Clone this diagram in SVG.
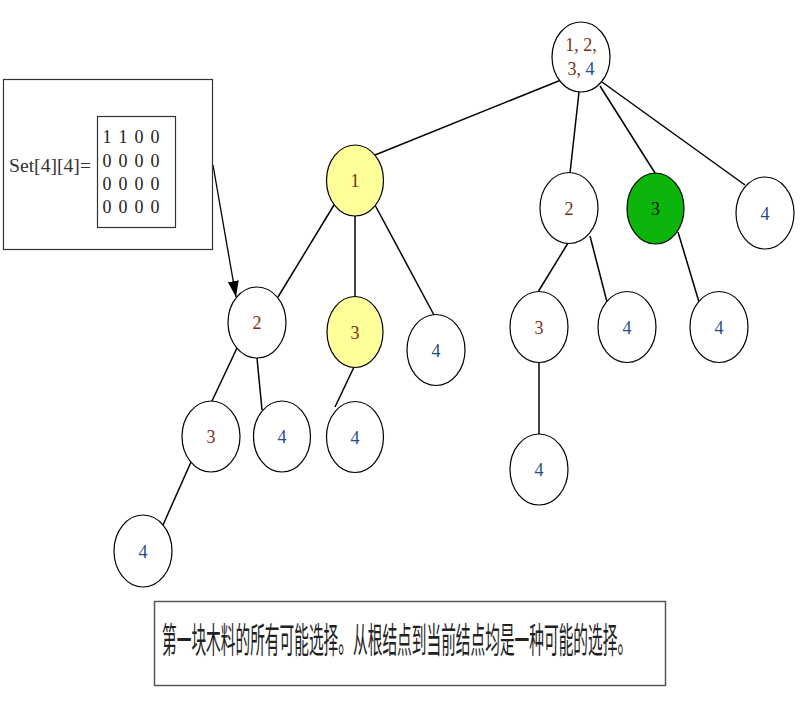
<svg xmlns="http://www.w3.org/2000/svg" width="812" height="716" viewBox="0 0 812 716">
<style>
.n{fill:#fff;stroke:#000;stroke-width:1.2}
.y{fill:#ffff99}
.g{fill:#0bb50b}
.t{font-family:"Liberation Serif",serif;font-size:18px;text-anchor:middle}
.b{fill:#7a3010}
.u{fill:#1f4e8c}
.k{fill:#111}
.e{stroke:#000;stroke-width:1.5;fill:none}
.box{fill:#fff;stroke:#333;stroke-width:1.2}
.m{font-family:"Liberation Serif",serif;font-size:18px;fill:#222;text-anchor:middle}
</style>
<defs>
<marker id="ah" viewBox="0 0 16 11" refX="16" refY="5.5" markerWidth="16" markerHeight="11" markerUnits="userSpaceOnUse" orient="auto">
<path d="M0,0 L16,5.5 L0,11 z" fill="#000"/>
</marker>
</defs>
<rect width="812" height="716" fill="#fff"/>
<g id="connectors">
<line class="e" x1="561" y1="80" x2="375" y2="155"/>
<line class="e" x1="579" y1="92" x2="570" y2="173"/>
<line class="e" x1="600" y1="86" x2="655" y2="173"/>
<line class="e" x1="602" y1="82" x2="745" y2="185"/>
<line class="e" x1="334" y1="205" x2="278" y2="297"/>
<line class="e" x1="355" y1="216" x2="355" y2="297"/>
<line class="e" x1="375" y1="205" x2="434" y2="315"/>
<line class="e" x1="237" y1="348" x2="212" y2="401"/>
<line class="e" x1="257" y1="358" x2="262" y2="410"/>
<line class="e" x1="191" y1="462" x2="163" y2="525"/>
<line class="e" x1="354" y1="367" x2="335" y2="407"/>
<line class="e" x1="568" y1="243" x2="538" y2="292"/>
<line class="e" x1="590" y1="236" x2="607" y2="302"/>
<line class="e" x1="678" y1="232" x2="699" y2="302"/>
<line class="e" x1="539" y1="362" x2="539" y2="434"/>
<line class="e" x1="213" y1="165" x2="236" y2="297" marker-end="url(#ah)" style="stroke-width:1.3"/>
</g>
<g id="root"><ellipse class="n" cx="581" cy="57" rx="29" ry="35"/>
<text class="t" x="581" y="51"><tspan class="b">1, 2,</tspan></text>
<text class="t" x="581" y="75"><tspan class="b">3, </tspan><tspan class="u">4</tspan></text></g>
<g id="n1"><ellipse class="n y" cx="355" cy="180.5" rx="28.5" ry="35.5"/><text class="t b" x="355" y="187">1</text></g>
<g id="n2r"><ellipse class="n" cx="569" cy="208" rx="29" ry="35.5"/><text class="t b" x="569" y="215">2</text></g>
<g id="n3g"><ellipse class="n g" cx="655.5" cy="208.5" rx="28.5" ry="35.5"/><text class="t k" x="655.5" y="215">3</text></g>
<g id="n4a"><ellipse class="n" cx="765" cy="213" rx="29" ry="36"/><text class="t u" x="765" y="220">4</text></g>
<g id="n2l"><ellipse class="n" cx="257" cy="322.5" rx="29" ry="35.5"/><text class="t b" x="257" y="329">2</text></g>
<g id="n3y"><ellipse class="n y" cx="355" cy="332" rx="28" ry="35.5"/><text class="t b" x="355" y="339">3</text></g>
<g id="n4b"><ellipse class="n" cx="436" cy="350" rx="29" ry="35.5"/><text class="t u" x="436" y="357">4</text></g>
<g id="n3r"><ellipse class="n" cx="539" cy="327" rx="29" ry="35.5"/><text class="t b" x="539" y="334">3</text></g>
<g id="n4c"><ellipse class="n" cx="627" cy="327" rx="29" ry="35.5"/><text class="t u" x="627" y="334">4</text></g>
<g id="n4d"><ellipse class="n" cx="719" cy="327" rx="29" ry="35.5"/><text class="t u" x="719" y="334">4</text></g>
<g id="n3l"><ellipse class="n" cx="211" cy="436.5" rx="29" ry="35.5"/><text class="t b" x="211" y="443">3</text></g>
<g id="n4e"><ellipse class="n" cx="282" cy="436.5" rx="28.5" ry="35.5"/><text class="t u" x="282" y="443">4</text></g>
<g id="n4f"><ellipse class="n" cx="355" cy="437" rx="28.5" ry="35.5"/><text class="t u" x="355" y="444">4</text></g>
<g id="n4g"><ellipse class="n" cx="539" cy="469.5" rx="29" ry="35.5"/><text class="t u" x="539" y="476">4</text></g>
<g id="n4h"><ellipse class="n" cx="143" cy="551" rx="29" ry="36"/><text class="t u" x="143" y="558">4</text></g>
<g id="setbox">
<rect class="box" x="3.5" y="79.5" width="209" height="170"/>
<text x="9" y="172" textLength="82" lengthAdjust="spacingAndGlyphs" style="font-family:'Liberation Serif',serif;font-size:18px;fill:#333">Set[4][4]=</text>
<rect class="box" x="97.5" y="116.5" width="78" height="111"/>
<g class="m">
<text x="107" y="143">1</text><text x="123" y="143">1</text><text x="139" y="143">0</text><text x="155" y="143">0</text>
<text x="107" y="167">0</text><text x="123" y="167">0</text><text x="139" y="167">0</text><text x="155" y="167">0</text>
<text x="107" y="190">0</text><text x="123" y="190">0</text><text x="139" y="190">0</text><text x="155" y="190">0</text>
<text x="107" y="213">0</text><text x="123" y="213">0</text><text x="139" y="213">0</text><text x="155" y="213">0</text>
</g>
</g>
<g id="caption">
<rect x="154.5" y="601.5" width="511" height="84" fill="#fff" stroke="#555" stroke-width="1.5"/>
<text transform="translate(162,653) scale(0.42,1)" x="0" y="0" style="font-family:'Noto Sans CJK SC',sans-serif;font-size:35px;fill:#222">第一块木料的所有可能选择。从根结点到当前结点均是一种可能的选择。</text>
</g>
</svg>
